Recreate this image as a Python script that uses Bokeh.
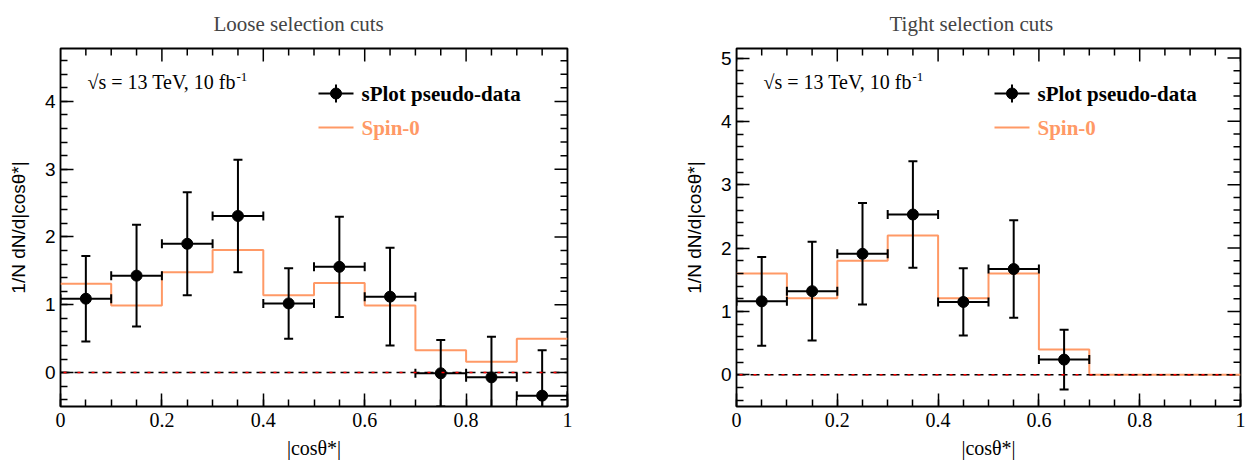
import numpy as np
from bokeh.plotting import figure
from bokeh.models import FixedTicker, Label, Span, Title
from bokeh.layouts import row
from bokeh.embed import file_html
from bokeh.resources import INLINE

# ---------------- data ----------------
bin_edges = [0.0, 0.1, 0.2, 0.3, 0.4, 0.5, 0.6, 0.7, 0.8, 0.9, 1.0]
bin_centers = [0.05, 0.15, 0.25, 0.35, 0.45, 0.55, 0.65, 0.75, 0.85, 0.95]

loose_data = [1.09, 1.43, 1.90, 2.31, 1.02, 1.56, 1.12, -0.01, -0.07, -0.34]
loose_err = [0.63, 0.75, 0.76, 0.83, 0.52, 0.74, 0.72, 0.49, 0.60, 0.67]
loose_spin0 = [1.31, 0.99, 1.48, 1.81, 1.14, 1.32, 0.99, 0.33, 0.16, 0.50]

tight_data = [1.16, 1.32, 1.91, 2.53, 1.15, 1.67, 0.24]
tight_err = [0.70, 0.78, 0.80, 0.84, 0.53, 0.77, 0.47]
tight_spin0 = [1.60, 1.21, 1.80, 2.20, 1.21, 1.60, 0.40, 0.0, 0.0, 0.0]

x_tick_values = [0.0, 0.2, 0.4, 0.6, 0.8, 1.0]
x_tick_labels = ["0", "0.2", "0.4", "0.6", "0.8", "1"]
loose_y_ticks = [0, 1, 2, 3, 4]
tight_y_ticks = [0, 1, 2, 3, 4, 5]

titles = ["Loose selection cuts", "Tight selection cuts"]
y_title = "1/N dN/d|cos\u03b8*|"
x_title = "|cos\u03b8*|"
energy_text = "\u221as = 13 TeV, 10 fb"
lumi_sup = "-1"
legend_data_label = "sPlot pseudo-data"
legend_model_label = "Spin-0"

SPIN_COLOR = "#FF9966"
FIG_H = 461
TOP_B = 48
FRAME_H = 358
Y_MIN = -0.5
MAJ_LEN = 13
MIN_LEN = 7


def make_panel(title, data, err, spin0, y_max, y_ticks, width, bl, br):
    frame_w = width - bl - br
    ppu = FRAME_H / (y_max - Y_MIN)
    p = figure(width=width, height=FIG_H, x_range=(0, 1), y_range=(Y_MIN, y_max),
               output_backend="svg", toolbar_location=None,
               min_border_left=bl, min_border_right=br,
               min_border_top=TOP_B, min_border_bottom=FIG_H - TOP_B - FRAME_H)
    p.xgrid.visible = False
    p.ygrid.visible = False
    p.outline_line_color = "black"
    p.outline_line_width = 1.8
    p.background_fill_color = "white"
    p.border_fill_color = "white"

    p.add_layout(Title(text=title, align="left", offset=153, vertical_align="top",
                       text_font="Liberation Serif", text_font_size="21px",
                       text_font_style="normal", standoff=21), "above")

    x_minor = [round(0.05 * i, 3) for i in range(21)]
    y_minor = [round(-0.4 + 0.2 * i, 3) for i in range(int((y_max + 0.4) / 0.2) + 1)]
    xt = FixedTicker(ticks=x_tick_values, minor_ticks=x_minor)
    yt = FixedTicker(ticks=y_ticks, minor_ticks=y_minor)

    bottom_axis = p.below[0]
    left_axis = p.left[0]
    bottom_axis.ticker = xt
    left_axis.ticker = yt
    for ax in (bottom_axis, left_axis):
        ax.axis_line_color = None
        ax.major_tick_out = 0
        ax.minor_tick_out = 0
        ax.major_tick_in = MAJ_LEN
        ax.minor_tick_in = MIN_LEN
        ax.major_tick_line_color = "black"
        ax.minor_tick_line_color = "black"
        ax.major_tick_line_width = 1.5
        ax.minor_tick_line_width = 1.5

    # mirrored ticks on top and right frame edges
    xt_all = [(v, MAJ_LEN) for v in x_tick_values] + \
             [(v, MIN_LEN) for v in x_minor if v not in x_tick_values]
    p.segment(x0=[v for v, _ in xt_all], y0=[y_max] * len(xt_all),
              x1=[v for v, _ in xt_all], y1=[y_max - L / ppu for _, L in xt_all],
              line_color="black", line_width=1.5)
    yt_all = [(v, MAJ_LEN) for v in y_ticks] + \
             [(v, MIN_LEN) for v in y_minor if v not in y_ticks]
    p.segment(x0=[1.0] * len(yt_all), y0=[v for v, _ in yt_all],
              x1=[1.0 - L / frame_w for _, L in yt_all], y1=[v for v, _ in yt_all],
              line_color="black", line_width=1.5)

    bottom_axis.major_label_overrides = {v: l for v, l in zip(x_tick_values, x_tick_labels)}
    bottom_axis.major_label_text_font = "Liberation Serif"
    bottom_axis.major_label_text_font_size = "20px"
    bottom_axis.major_label_text_color = "black"
    bottom_axis.major_label_standoff = 6
    bottom_axis.axis_label = x_title
    bottom_axis.axis_label_text_font = "Liberation Serif"
    bottom_axis.axis_label_text_font_size = "20px"
    bottom_axis.axis_label_text_font_style = "normal"
    bottom_axis.axis_label_text_color = "black"
    bottom_axis.axis_label_standoff = 7

    left_axis.major_label_text_font = "Liberation Sans"
    left_axis.major_label_text_font_size = "19px"
    left_axis.major_label_text_color = "black"
    left_axis.major_label_standoff = 5
    left_axis.axis_label = y_title
    left_axis.axis_label_text_font = "Liberation Sans"
    left_axis.axis_label_text_font_size = "19px"
    left_axis.axis_label_text_font_style = "normal"
    left_axis.axis_label_text_color = "black"
    left_axis.axis_label_standoff = 13

    # model histogram
    p.step(x=bin_edges, y=list(spin0) + [spin0[-1]], mode="after",
           line_color=SPIN_COLOR, line_width=2)

    # zero line
    p.add_layout(Span(location=0, dimension="width", line_color="black",
                      line_width=1.5, line_dash="9 5"))
    p.add_layout(Span(location=0, dimension="width", line_color="red",
                      line_width=1.5, line_dash="3 11", line_dash_offset=-3))

    # data points with error bars
    n = len(data)
    d = np.array(data)
    e = np.array(err)
    cx = bin_centers[:n]
    lo = list(d - e)
    hi = list(d + e)
    p.segment(x0=cx, y0=lo, x1=cx, y1=hi, line_color="black", line_width=2)
    p.segment(x0=bin_edges[:n], y0=data, x1=bin_edges[1:n + 1], y1=data,
              line_color="black", line_width=2)
    p.scatter(x=bin_edges[:n] + bin_edges[1:n + 1], y=list(data) * 2, marker="dash",
              size=9, angle=np.pi / 2, line_color="black", line_width=2)
    p.scatter(x=cx + cx, y=lo + hi, marker="dash", size=9,
              line_color="black", line_width=2)
    p.scatter(x=cx, y=data, size=11, color="black")

    # legend & annotation text
    fx = lambda px: px / frame_w
    fy = lambda px: y_max - px / ppu
    y1 = fy(45)
    y2 = fy(79)
    lx0, lx1 = fx(258), fx(293)
    lxc = 0.5 * (lx0 + lx1)
    p.segment(x0=[lx0], y0=[y1], x1=[lx1], y1=[y1], line_color="black", line_width=2)
    p.segment(x0=[lxc], y0=[y1 - 9 / ppu], x1=[lxc], y1=[y1 + 9 / ppu],
              line_color="black", line_width=2)
    p.scatter(x=[lxc], y=[y1], size=11, color="black")
    p.segment(x0=[lx0], y0=[y2], x1=[lx1], y1=[y2], line_color=SPIN_COLOR, line_width=2)

    p.add_layout(Label(x=fx(301), y=y1, text=legend_data_label, text_baseline="middle",
                       text_font="Liberation Serif", text_font_style="bold",
                       text_font_size="21px", text_color="black"))
    p.add_layout(Label(x=fx(301), y=y2, text=legend_model_label, text_baseline="middle",
                       text_font="Liberation Serif", text_font_style="bold",
                       text_font_size="21px", text_color=SPIN_COLOR))
    p.add_layout(Label(x=fx(27), y=fy(33), text=energy_text, text_baseline="middle",
                       text_font="Liberation Serif", text_font_size="20px",
                       text_color="black"))
    p.add_layout(Label(x=fx(176), y=fy(28), text=lumi_sup, text_baseline="middle",
                       text_font="Liberation Serif", text_font_size="13px",
                       text_color="black"))
    return p


p1 = make_panel(titles[0], loose_data, loose_err, loose_spin0, 4.78, loose_y_ticks,
                630, 60, 63)
p2 = make_panel(titles[1], tight_data, tight_err, tight_spin0, 5.15, tight_y_ticks,
                629, 106, 19)

layout = row(p1, p2)
open("out.html", "w").write(file_html(layout, INLINE))
